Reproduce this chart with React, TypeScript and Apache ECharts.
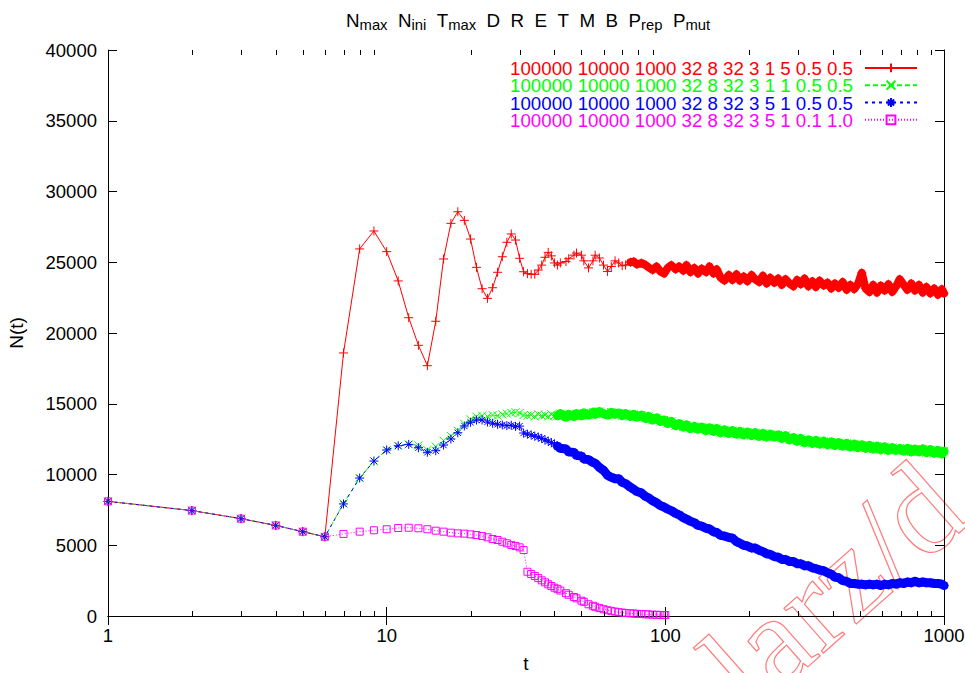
import React, { useEffect, useRef } from 'react';
import * as echarts from 'echarts';

// ---- data ----
const tEarly = [1, 2, 3, 4, 5, 6, 7, 8, 9, 10, 11, 12, 13, 14, 15, 16, 17, 18, 19, 20,
  21, 22, 23, 24, 25, 26, 27, 28, 29, 30, 31, 32, 33, 34, 35, 36, 37, 38, 39, 40];

const tLate = [41, 42, 44, 45, 47, 48, 50, 51, 53, 55,
  56, 58, 60, 62, 64, 66, 68, 70, 72, 75,
  77, 79, 82, 85, 87, 90, 93, 96, 99, 102,
  105, 109, 112, 116, 119, 123, 127, 131, 135, 140,
  144, 149, 153, 158, 163, 169, 174, 180, 185, 191,
  197, 204, 210, 217, 224, 231, 238, 246, 254, 262,
  270, 279, 288, 297, 306, 316, 326, 337, 347, 358,
  370, 382, 394, 406, 419, 433, 447, 461, 476, 491,
  507, 523, 540, 557, 575, 593, 612, 632, 652, 673,
  694, 717, 739, 763, 787, 813, 839, 865, 893, 922,
  951, 982, 1000];

const tLateMagenta = [41, 42, 44, 45, 47, 48, 50, 51, 53, 55,
  56, 58, 60, 62, 64, 66, 68, 70, 72, 75,
  77, 79, 82, 85, 87, 90, 93, 96, 99, 100];

const redEarly = [8100, 7450, 6880, 6400, 5960, 5600, 18590, 25940, 27210, 25750,
  23680, 21080, 19130, 17690, 20830, 25230, 27750, 28570, 27960, 26640,
  24640, 23130, 22450, 23200, 24290, 25390, 26410, 27000, 26570, 25280,
  24330, 24200, 24150, 24150, 24450, 24800, 25350, 25700, 25450, 24950];
const redLate = [24800, 24950, 25050, 25250, 25500, 25650, 25500, 25100, 24600, 25100,
  25500, 25300, 24800, 24350, 24700, 25100, 24950, 24750, 24800, 25000,
  25050, 24850, 24950, 24800, 24650, 24450, 24700, 24350, 24200, 24600,
  24800, 24500, 24700, 24400, 24800, 24300, 24600, 24200, 24550, 24300,
  24700, 24200, 24500, 23900, 23700, 24100, 23750, 24150, 23700, 24000,
  23650, 24100, 23800, 23600, 24050, 23500, 23900, 23550, 23850, 23400,
  23800, 23500, 23300, 23750, 23450, 23850, 23300, 23650, 23250, 23700,
  23350, 23550, 23150, 23500, 23200, 23600, 23050, 23400, 23100, 23450,
  24250, 23150, 22900, 23400, 22850, 23350, 23000, 23450, 22900, 23300,
  23800, 23400, 23050, 23500, 23000, 23400, 22850, 23250, 22800, 23150,
  22700, 23100, 22800];

const greenEarly = [8100, 7450, 6880, 6400, 5960, 5600, 7950, 9750, 10950, 11730,
  12030, 12130, 12060, 11730, 11970, 12390, 12720, 13100, 13570, 13900,
  14090, 14160, 14100, 14200, 14150, 14250, 14300, 14350, 14400, 14350,
  14200, 14150, 14200, 14100, 14250, 14150, 14200, 14100, 14250, 14150];
const greenLate = [14150, 14300, 14050, 14250, 14100, 14300, 14150, 14350, 14200, 14400,
  14250, 14450, 14300, 14200, 14400, 14250, 14350, 14150, 14300, 14100,
  14250, 14050, 14200, 13950, 14100, 13850, 14000, 13750, 13850, 13600,
  13750, 13450, 13600, 13350, 13500, 13250, 13400, 13200, 13350, 13100,
  13300, 13050, 13250, 12950, 13150, 12900, 13100, 12850, 13050, 12800,
  13000, 12750, 12950, 12700, 12900, 12650, 12850, 12650, 12800, 12550,
  12750, 12450, 12600, 12350, 12550, 12250, 12450, 12200, 12400, 12150,
  12350, 12100, 12300, 12050, 12250, 12000, 12200, 11950, 12150, 11900,
  12100, 11850, 12050, 11800, 12000, 11750, 11950, 11700, 11900, 11700,
  11850, 11650, 11850, 11600, 11800, 11600, 11800, 11550, 11750, 11500,
  11700, 11450, 11650];

const blueEarly = [8100, 7450, 6880, 6400, 5960, 5600, 7920, 9750, 10950, 11730,
  12030, 12130, 11890, 11570, 11680, 12080, 12510, 12950, 13430, 13690,
  13850, 13850, 13710, 13620, 13550, 13500, 13450, 13480, 13400, 13420,
  12930, 12850, 12800, 12700, 12650, 12550, 12450, 12350, 12250, 12150];
const blueLate = [12000, 11850, 11800, 11600, 11550, 11350, 11300, 11100, 11050, 10850,
  10800, 10500, 10300, 9950, 9800, 9700, 9700, 9450, 9350, 9100,
  8950, 8800, 8700, 8450, 8350, 8150, 8000, 7800, 7700, 7550,
  7450, 7250, 7150, 6950, 6850, 6700, 6600, 6400, 6350, 6200,
  6150, 5950, 5900, 5700, 5650, 5550, 5500, 5250, 5150, 5000,
  4950, 4800, 4800, 4650, 4550, 4400, 4350, 4200, 4150, 4000,
  4000, 3850, 3850, 3700, 3700, 3550, 3550, 3400, 3350, 3250,
  3200, 3050, 2950, 2750, 2700, 2500, 2450, 2300, 2300, 2250,
  2250, 2200, 2250, 2200, 2250, 2150, 2250, 2200, 2300, 2250,
  2350, 2300, 2400, 2350, 2450, 2350, 2400, 2350, 2350, 2300,
  2300, 2250, 2150];

const magentaEarly = [8100, 7450, 6880, 6400, 5960, 5600, 5800, 5960, 6060, 6130,
  6220, 6240, 6200, 6130, 6030, 5960, 5890, 5840, 5820, 5770,
  5720, 5650, 5560, 5440, 5370, 5250, 5140, 5020, 4950, 4850,
  4660, 3130, 2970, 2830, 2680, 2520, 2380, 2240, 2120, 2000];
const magentaLate = [1920, 1800, 1610, 1500, 1340, 1250, 1080, 1000, 830, 720,
  650, 560, 480, 410, 360, 310, 270, 240, 215, 190,
  170, 155, 140, 120, 110, 95, 85, 75, 70, 65];

const legendLabels = [
  '100000 10000 1000 32 8 32 3 1 5 0.5 0.5',
  '100000 10000 1000 32 8 32 3 1 1 0.5 0.5',
  '100000 10000 1000 32 8 32 3 5 1 0.5 0.5',
  '100000 10000 1000 32 8 32 3 5 1 0.1 1.0',
];

const titleParts: [string, string][] = [
  ['N', 'max'], ['N', 'ini'], ['T', 'max'], ['D', ''], ['R', ''], ['E', ''],
  ['T', ''], ['M', ''], ['B', ''], ['P', 'rep'], ['P', 'mut'],
];

const xMinorTicks = [2, 3, 4, 5, 6, 7, 8, 9, 20, 30, 40, 50, 60, 70, 80, 90,
  200, 300, 400, 500, 600, 700, 800, 900];

const xAxisTitle = 't';
const yAxisTitle = 'N(t)';
const watermark = 'larz/d';

// where each run's noisy late part merges into a solid band (t from)
const bandStart = [75, 41, 41, 0];

// ---- styling ----
const FONT = "'Liberation Sans', Arial, Helvetica, sans-serif";
const colors = ['#ff0000', '#00ff00', '#0000ff', '#ff00ff'];
const colorKeys = ['c0', 'c1', 'c2', 'c3'];
const symbols = [
  'path://M5,0L5,10M0,5L10,5',
  'path://M0,0L10,10M10,0L0,10',
  'path://M5,0L5,10M0,5L10,5M1.5,1.5L8.5,8.5M8.5,1.5L1.5,8.5',
  'path://M0,0L10,0L10,10L0,10Z',
];
const symbolSizes = [9, 8, 9, 7];
const lineTypes: any[] = ['solid', [5, 3], [3, 4], [1, 2]];
const bandWidths = [8, 9, 9, 0];
const ROW = 17.5;

function pairs(ts: number[], vs: number[]) {
  const out: number[][] = [];
  const n = Math.min(ts.length, vs.length);
  for (let i = 0; i < n; i++) out.push([ts[i], vs[i]]);
  return out;
}

export default function App() {
  const ref = useRef<HTMLDivElement>(null);
  useEffect(() => {
    if (!ref.current) return;
    const chart = echarts.init(ref.current, null, { renderer: 'svg' });

    const lateData = [
      pairs(tLate, redLate),
      pairs(tLate, greenLate),
      pairs(tLate, blueLate),
      pairs(tLateMagenta, magentaLate),
    ];
    const seriesData = [
      pairs(tEarly, redEarly).concat(lateData[0]),
      pairs(tEarly, greenEarly).concat(lateData[1]),
      pairs(tEarly, blueEarly).concat(lateData[2]),
      pairs(tEarly, magentaEarly).concat(lateData[3]),
    ];

    const series: any[] = [];
    seriesData.forEach((d, i) => {
      if (bandWidths[i] > 0) {
        series.push({
          type: 'line',
          name: 'band' + i,
          data: lateData[i].filter((p) => p[0] >= bandStart[i]),
          showSymbol: false,
          symbol: 'none',
          z: 2 + i * 2,
          lineStyle: { color: colors[i], width: bandWidths[i], cap: 'round', join: 'round' },
          emphasis: { disabled: true },
          silent: true,
        });
      }
      series.push({
        type: 'line',
        name: legendLabels[i],
        data: d,
        symbol: symbols[i],
        symbolSize: symbolSizes[i],
        showAllSymbol: true,
        showSymbol: true,
        z: 3 + i * 2,
        lineStyle: { color: colors[i], width: 1, type: lineTypes[i] },
        itemStyle: { color: i === 3 ? 'rgba(0,0,0,0)' : colors[i], borderColor: colors[i], borderWidth: 1 },
        emphasis: { disabled: true },
      });
    });

    const titleText = titleParts
      .map(([m, s]) => `{n|${m}}` + (s ? `{s|${s}}` : ''))
      .join('  ');

    // legend labels as one multi-line block, one colour per line
    const legendText = legendLabels.map((l, i) => `{${colorKeys[i]}|${l}}`).join('\n');
    const legendRich: any = {};
    colorKeys.forEach((k, i) => {
      legendRich[k] = { fill: colors[i], fontSize: 18.7, fontFamily: FONT, lineHeight: ROW };
    });

    const axisLabelStyle = { color: '#000', fontSize: 18.5, fontFamily: FONT, formatter: (v: number) => String(v) };

    chart.setOption({
      animation: false,
      backgroundColor: '#fff',
      title: {
        text: titleText,
        left: 341,
        top: 4,
        textStyle: {
          fontSize: 18.8, fontFamily: FONT, color: '#000', fontWeight: 'normal',
          rich: {
            n: { fontSize: 18.8, fontFamily: FONT, color: '#000' },
            s: { fontSize: 14.8, fontFamily: FONT, color: '#000', padding: [8, 0, 0, 0] },
          },
        },
      },
      legend: {
        orient: 'vertical',
        right: 47,
        top: 62.5,
        padding: 0,
        align: 'right',
        itemWidth: 52,
        itemHeight: 11,
        itemGap: ROW - 11,
        selectedMode: false,
        formatter: () => '',
        data: legendLabels,
        textStyle: { fontSize: 1, lineHeight: 1 },
      },
      grid: { left: 108, right: 21, top: 50, bottom: 57, containLabel: false, outerBoundsMode: 'none' },
      xAxis: [
        {
          type: 'log', logBase: 10, min: 1, max: 1000, position: 'bottom',
          name: xAxisTitle, nameLocation: 'middle', nameGap: 38,
          nameTextStyle: { color: '#000', fontSize: 19, fontFamily: FONT },
          axisLine: { show: true, lineStyle: { color: '#000', width: 1 } },
          axisTick: { show: true, inside: true, length: 9, lineStyle: { color: '#000' } },
          axisLabel: { ...axisLabelStyle, margin: 10 },
          splitLine: { show: false },
          minorTick: { show: false },
        },
        {
          type: 'log', logBase: 10, min: 1, max: 1000, position: 'top',
          axisLine: { show: true, lineStyle: { color: '#000', width: 1 } },
          axisTick: { show: true, inside: true, length: 9, lineStyle: { color: '#000' } },
          axisLabel: { show: false },
          splitLine: { show: false },
        },
      ],
      yAxis: [
        {
          type: 'value', min: 0, max: 40000, interval: 5000, position: 'left',
          name: yAxisTitle, nameLocation: 'middle', nameGap: 82,
          nameTextStyle: { color: '#000', fontSize: 19, fontFamily: FONT },
          axisLine: { show: true, lineStyle: { color: '#000', width: 1 } },
          axisTick: { show: true, inside: true, length: 9, lineStyle: { color: '#000' } },
          axisLabel: { ...axisLabelStyle, margin: 11 },
          splitLine: { show: false },
        },
        {
          type: 'value', min: 0, max: 40000, interval: 5000, position: 'right',
          axisLine: { show: true, lineStyle: { color: '#000', width: 1 } },
          axisTick: { show: true, inside: true, length: 9, lineStyle: { color: '#000' } },
          axisLabel: { show: false },
          splitLine: { show: false },
        },
      ],
      graphic: [
        {
          type: 'text', x: 722, y: 684, rotation: 0.724, z: -10, silent: true,
          style: {
            text: watermark, font: "130px 'Liberation Serif', 'Times New Roman', serif",
            fill: 'none', stroke: '#ff7a7a', lineWidth: 1.2, align: 'left', verticalAlign: 'middle',
          },
        },
        {
          type: 'text', x: 853, y: 68 - ROW / 2, z: 50, silent: true,
          style: {
            text: legendText, rich: legendRich, align: 'right', verticalAlign: 'top',
            fontSize: 18.7, fontFamily: FONT, lineHeight: ROW,
          },
        },
      ],
      series: [
        ...series,
        {
          type: 'custom',
          name: 'minorTicks',
          xAxisIndex: 0,
          yAxisIndex: 0,
          silent: true,
          clip: false,
          z: 20,
          data: xMinorTicks.map((v) => [v, 0]),
          renderItem: (params: any, api: any) => {
            const p0 = api.coord([api.value(0), 0]);
            const p1 = api.coord([api.value(0), 40000]);
            const x = Math.round(p0[0]) + 0.5;
            return {
              type: 'group',
              children: [
                { type: 'line', shape: { x1: x, y1: p0[1], x2: x, y2: p0[1] - 5 }, style: { stroke: '#000', lineWidth: 1 } },
                { type: 'line', shape: { x1: x, y1: p1[1], x2: x, y2: p1[1] + 5 }, style: { stroke: '#000', lineWidth: 1 } },
              ],
            };
          },
        },
      ],
    } as any);

    return () => chart.dispose();
  }, []);

  return <div ref={ref} style={{ width: 965, height: 673, position: 'absolute', left: 0, top: 0 }} />;
}
